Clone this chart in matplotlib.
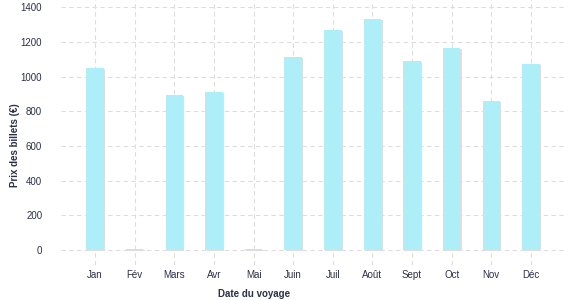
import matplotlib
matplotlib.use("Agg")
import matplotlib.pyplot as plt
import matplotlib.patheffects as pe

months = ["Jan", "Fév", "Mars", "Avr", "Mai", "Juin", "Juil", "Août", "Sept", "Oct", "Nov", "Déc"]
prices = [1050, 5, 894, 911, 5, 1113, 1269, 1333, 1090, 1165, 860, 1073]
yticks = [0, 200, 400, 600, 800, 1000, 1200, 1400]

text_color = "#2b3046"
plt.rcParams['font.family'] = ['Liberation Sans', 'DejaVu Sans']

fig = plt.figure(figsize=(5.77, 3.0), dpi=100)
ax = fig.add_axes([61/577, 1 - 265/300, (565-61)/577, 265/300])

x = list(range(len(months)))
bars = ax.bar(x, prices, width=0.44, color="#aeeef8", zorder=3)
for b in bars:
    b.set_path_effects([pe.SimplePatchShadow(offset=(1.0, -1.0), shadow_rgbFace="#dedede", alpha=1.0), pe.Normal()])

ax.set_xlim(-0.86, 11.86)
ax.set_ylim(-87, 1442)
ax.set_xticks(x)
ax.set_xticklabels(months)
ax.set_yticks(yticks)
ax.set_yticklabels([str(v) for v in yticks])

ax.grid(True, color="#dddddd", linestyle=(0, (4, 3)), linewidth=0.8, zorder=0)
for s in ax.spines.values():
    s.set_visible(False)
ax.tick_params(axis='both', length=0, labelsize=7, colors=text_color)
ax.tick_params(axis='x', pad=3.5)
ax.tick_params(axis='y', pad=13.5)

ax.set_xlabel("Date du voyage", fontsize=7, fontweight='bold', color=text_color)
ax.xaxis.set_label_coords((254-61)/(565-61), -(289-265)/265)
ax.set_ylabel("Prix des billets (€)", fontsize=7, fontweight='bold', color=text_color)
ax.yaxis.set_label_coords(-(61-20)/(565-61), (265-145)/265)

fig.savefig("out.png", dpi=100)
